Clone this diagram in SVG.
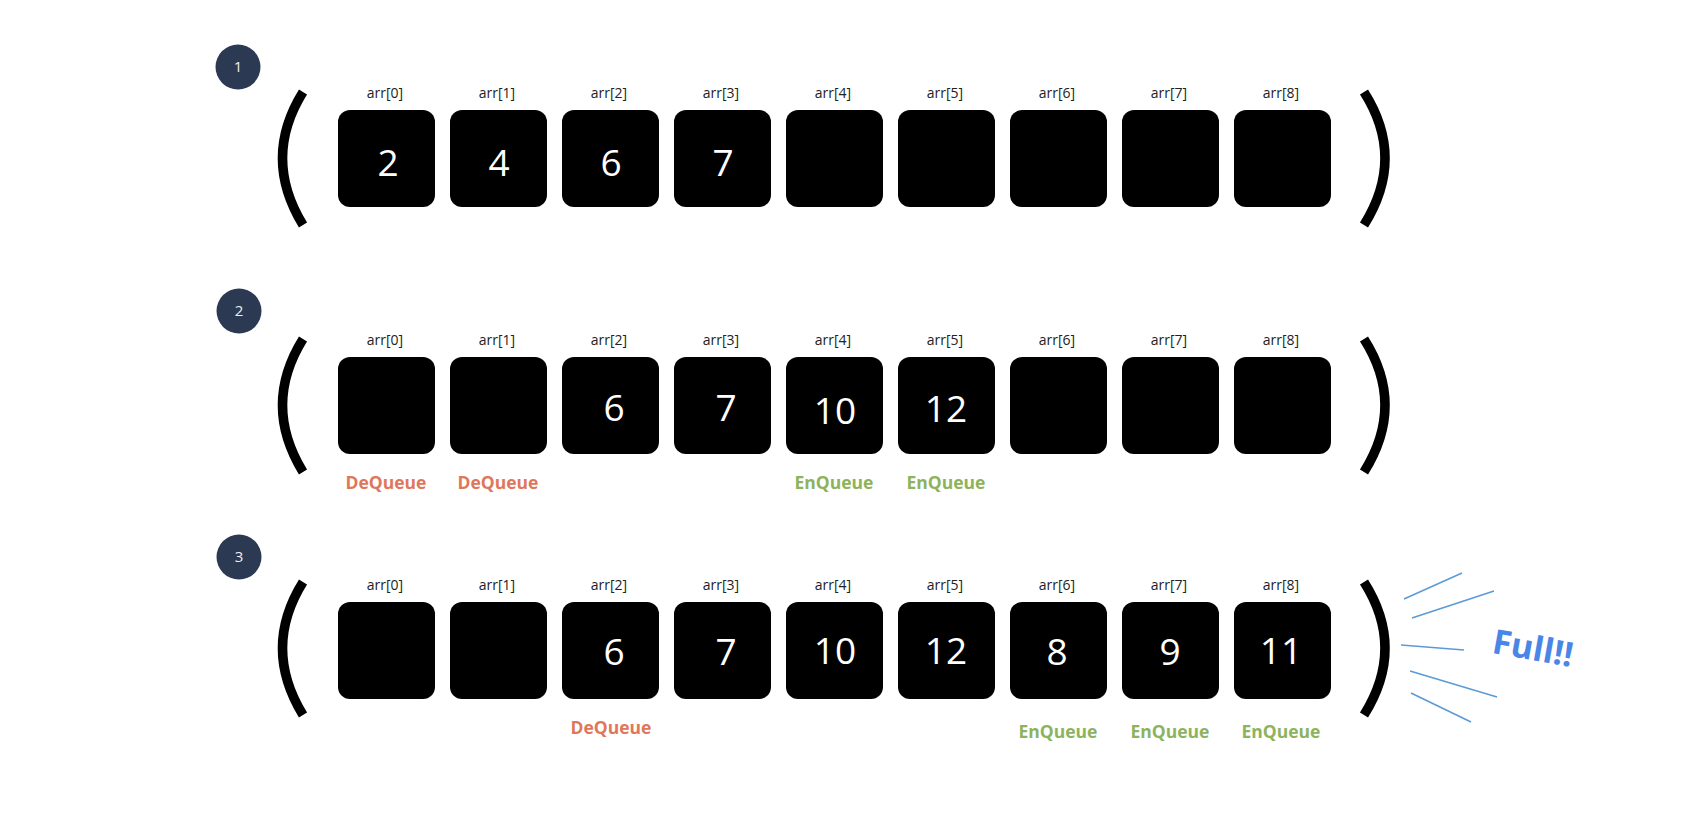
<svg xmlns="http://www.w3.org/2000/svg" width="1702" height="830" viewBox="0 0 1702 830">
<defs>
<style>
.box{fill:#000}
.num{font-family:"Open Sans","Noto Sans",sans-serif;font-size:37px;fill:#fff;text-anchor:middle}
.idx{font-family:"Open Sans","Noto Sans",sans-serif;font-size:14px;fill:#222;text-anchor:middle}
.br{fill:none;stroke:#000;stroke-width:9.5}
.step{fill:#2b3a52}
.stepn{font-family:"Open Sans","Noto Sans",sans-serif;font-size:15px;fill:#eee;text-anchor:middle}
.de{font-family:"Open Sans","Noto Sans",sans-serif;font-size:17.5px;font-weight:bold;fill:#e0775a;text-anchor:middle}
.en{font-family:"Open Sans","Noto Sans",sans-serif;font-size:17.5px;font-weight:bold;fill:#8db35c;text-anchor:middle}
.ray{stroke:#5b9bd5;stroke-width:1.6;fill:none}
</style>
<rect id="cell" width="97" height="97" rx="12" ry="12"/>
</defs>
<rect width="1702" height="830" fill="#fff"/>

<!-- Row 1 -->
<g id="row1">
<circle class="step" cx="238" cy="67" r="22.5"/>
<text class="stepn" x="238" y="72">1</text>
<path class="br" d="M303 92 Q262 158 303 225"/>
<path class="br" d="M1364 92 Q1406 158 1364 225"/>
<g transform="translate(338,110)">
<use href="#cell" x="0" class="box"/><use href="#cell" x="112" class="box"/><use href="#cell" x="224" class="box"/><use href="#cell" x="336" class="box"/><use href="#cell" x="448" class="box"/><use href="#cell" x="560" class="box"/><use href="#cell" x="672" class="box"/><use href="#cell" x="784" class="box"/><use href="#cell" x="896" class="box"/>
<text class="idx" x="47" y="-12">arr[0]</text><text class="idx" x="159" y="-12">arr[1]</text><text class="idx" x="271" y="-12">arr[2]</text><text class="idx" x="383" y="-12">arr[3]</text><text class="idx" x="495" y="-12">arr[4]</text><text class="idx" x="607" y="-12">arr[5]</text><text class="idx" x="719" y="-12">arr[6]</text><text class="idx" x="831" y="-12">arr[7]</text><text class="idx" x="943" y="-12">arr[8]</text>
<text class="num" x="50" y="66">2</text><text class="num" x="161" y="66">4</text><text class="num" x="273" y="66">6</text><text class="num" x="385" y="66">7</text>
</g>
</g>

<!-- Row 2 -->
<g id="row2">
<circle class="step" cx="239" cy="311" r="22.5"/>
<text class="stepn" x="239" y="316">2</text>
<path class="br" d="M303 339 Q262 405 303 472"/>
<path class="br" d="M1364 339 Q1406 405 1364 472"/>
<g transform="translate(338,357)">
<use href="#cell" x="0" class="box"/><use href="#cell" x="112" class="box"/><use href="#cell" x="224" class="box"/><use href="#cell" x="336" class="box"/><use href="#cell" x="448" class="box"/><use href="#cell" x="560" class="box"/><use href="#cell" x="672" class="box"/><use href="#cell" x="784" class="box"/><use href="#cell" x="896" class="box"/>
<text class="idx" x="47" y="-12">arr[0]</text><text class="idx" x="159" y="-12">arr[1]</text><text class="idx" x="271" y="-12">arr[2]</text><text class="idx" x="383" y="-12">arr[3]</text><text class="idx" x="495" y="-12">arr[4]</text><text class="idx" x="607" y="-12">arr[5]</text><text class="idx" x="719" y="-12">arr[6]</text><text class="idx" x="831" y="-12">arr[7]</text><text class="idx" x="943" y="-12">arr[8]</text>
<text class="num" x="276" y="64">6</text><text class="num" x="388" y="64">7</text><text class="num" x="497" y="67">10</text><text class="num" x="608" y="65">12</text>
<text class="de" x="48" y="132">DeQueue</text><text class="de" x="160" y="132">DeQueue</text>
<text class="en" x="496" y="132">EnQueue</text><text class="en" x="608" y="132">EnQueue</text>
</g>
</g>

<!-- Row 3 -->
<g id="row3">
<circle class="step" cx="239" cy="557" r="22.5"/>
<text class="stepn" x="239" y="562">3</text>
<path class="br" d="M303 582 Q262 648 303 715"/>
<path class="br" d="M1364 582 Q1406 648 1364 715"/>
<g transform="translate(338,602)">
<use href="#cell" x="0" class="box"/><use href="#cell" x="112" class="box"/><use href="#cell" x="224" class="box"/><use href="#cell" x="336" class="box"/><use href="#cell" x="448" class="box"/><use href="#cell" x="560" class="box"/><use href="#cell" x="672" class="box"/><use href="#cell" x="784" class="box"/><use href="#cell" x="896" class="box"/>
<text class="idx" x="47" y="-12">arr[0]</text><text class="idx" x="159" y="-12">arr[1]</text><text class="idx" x="271" y="-12">arr[2]</text><text class="idx" x="383" y="-12">arr[3]</text><text class="idx" x="495" y="-12">arr[4]</text><text class="idx" x="607" y="-12">arr[5]</text><text class="idx" x="719" y="-12">arr[6]</text><text class="idx" x="831" y="-12">arr[7]</text><text class="idx" x="943" y="-12">arr[8]</text>
<text class="num" x="276" y="63">6</text><text class="num" x="388" y="63">7</text><text class="num" x="497" y="62">10</text><text class="num" x="608" y="62">12</text><text class="num" x="719" y="63">8</text><text class="num" x="832" y="63">9</text><text class="num" x="943" y="62">11</text>
<text class="de" x="273" y="132">DeQueue</text>
<text class="en" x="720" y="136">EnQueue</text><text class="en" x="832" y="136">EnQueue</text><text class="en" x="943" y="136">EnQueue</text>
</g>
</g>

<!-- Full indicator -->
<g id="full">
<line class="ray" x1="1404" y1="599" x2="1462" y2="573"/>
<line class="ray" x1="1412" y1="618" x2="1494" y2="591"/>
<line class="ray" x1="1401" y1="645" x2="1464" y2="650"/>
<line class="ray" x1="1410" y1="671" x2="1497" y2="697"/>
<line class="ray" x1="1411" y1="693" x2="1471" y2="722"/>
<text x="1533" y="660" transform="rotate(10 1533 648)" font-family="'Open Sans','Noto Sans',sans-serif" font-size="34" font-weight="bold" fill="#4a86e8" text-anchor="middle">Full!!</text>
</g>
</svg>
